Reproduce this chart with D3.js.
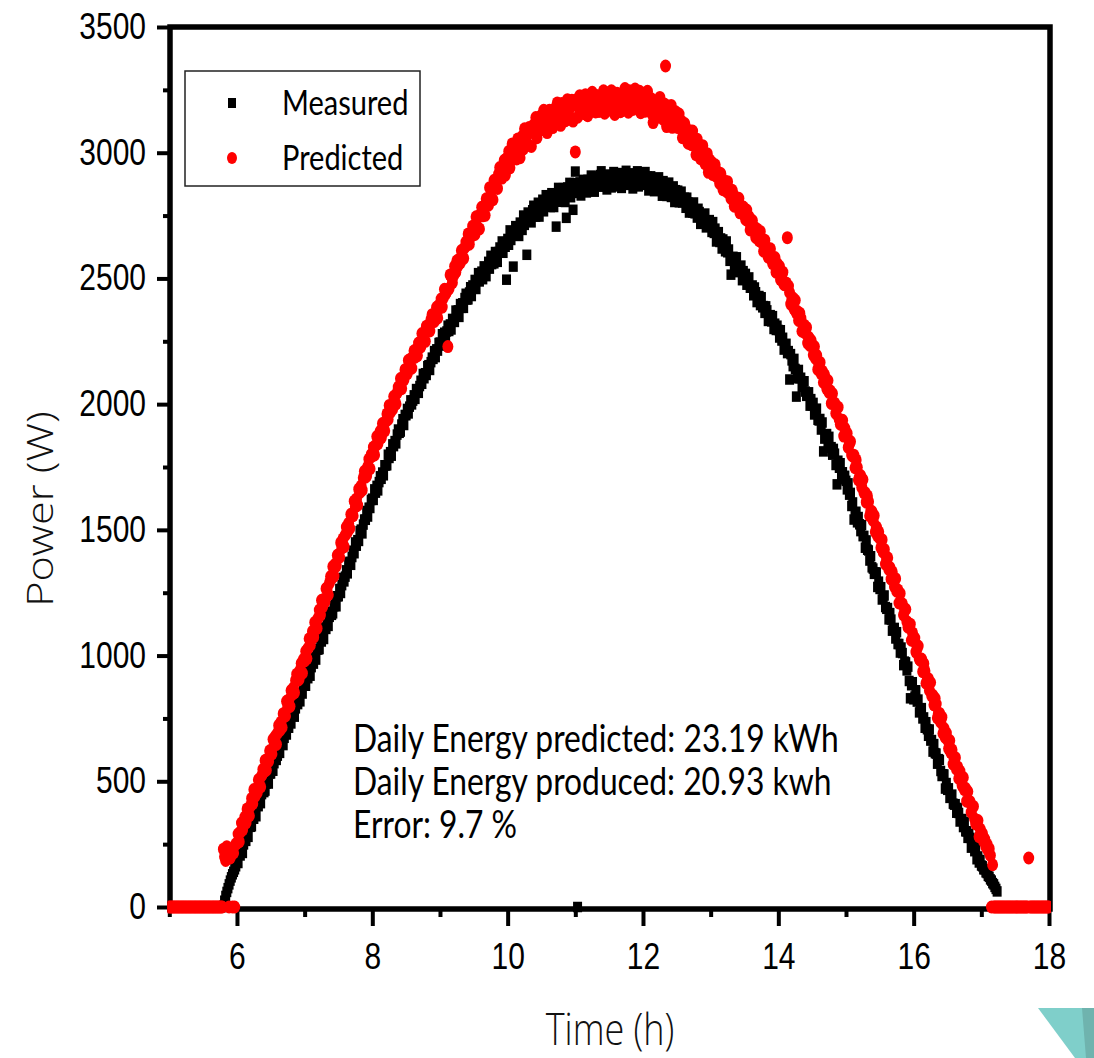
<!DOCTYPE html>
<meta charset="utf-8">
<script src="https://d3js.org/d3.v7.min.js"></script>
<style>
  body { margin: 0; background: #fff; }
</style>
<div id="chart"></div>
<script>
// one sample per minute, starting at 5:00 (one row = one hour)
var startHour = 5, stepHours = 1 / 60;

var measured = [
  0,0,0,0,0,0,0,0,0,0,0,0,0,0,0,0,0,0,0,0,0,0,0,0,0,0,0,0,0,0,0,0,0,0,0,0,0,0,0,0,0,0,0,0,0,0,0,0,5,25,44,60,75,90,105,118,130,140,150,162,
  179,175,217,205,233,215,249,273,263,289,279,319,319,321,363,351,375,361,407,401,421,413,449,469,457,463,491,513,491,531,531,559,542,572,599,585,602,626,613,655,656,644,673,697,686,728,713,735,730,768,773,757,790,810,807,841,818,852,849,881,
  884,880,922,910,938,920,954,978,968,994,984,1024,1024,1026,1068,1056,1080,1066,1112,1106,1126,1118,1154,1174,1162,1168,1196,1218,1196,1236,1236,1265,1249,1280,1309,1295,1314,1339,1327,1370,1373,1361,1392,1417,1407,1450,1437,1459,1456,1495,1501,1486,1521,1541,1540,1575,1553,1588,1587,1619,
  1624,1619,1661,1648,1675,1657,1690,1713,1703,1728,1717,1757,1756,1757,1799,1786,1809,1795,1840,1833,1853,1844,1879,1899,1886,1891,1919,1940,1917,1957,1956,1981,1963,1990,2015,1999,2014,2035,2021,2060,2059,2045,2072,2093,2081,2120,2103,2123,2116,2151,2155,2136,2167,2185,2180,2211,2187,2218,2213,2243,
  2245,2233,2278,2255,2284,2253,2289,2312,2291,2317,2297,2339,2332,2327,2372,2350,2373,2347,2398,2383,2401,2383,2422,2439,2416,2417,2444,2465,2430,2472,2464,2494,2458,2491,2521,2488,2503,2527,2497,2548,2539,2509,2542,2566,2539,2590,2557,2578,2560,2605,2602,2566,2605,2623,2608,2647,2602,2641,2626,2495,
  2657,2634,2691,2653,2687,2547,2682,2708,2673,2703,2669,2722,2706,2693,2750,2713,2739,2594,2762,2735,2754,2723,2771,2789,2751,2746,2778,2801,2746,2799,2783,2813,2767,2801,2831,2788,2800,2824,2784,2839,2824,2784,2818,2706,2805,2860,2816,2837,2811,2859,2851,2804,2741,2862,2839,2880,2823,2864,2773,2879,
  2925,2840,0,2852,2882,2830,2870,2892,2854,2880,2842,2892,2872,2855,2909,2868,2890,2845,2906,2875,2891,2867,2911,2926,2884,2865,2894,2913,2854,2903,2883,2911,2862,2894,2923,2877,2887,2909,2866,2919,2902,2860,2892,2914,2875,2928,2882,2900,2872,2918,2907,2858,2898,2912,2887,2926,2866,2906,2881,2916,
  2902,2872,2923,2878,2905,2850,2887,2906,2865,2888,2847,2894,2871,2851,2902,2858,2877,2829,2887,2853,2866,2828,2869,2881,2836,2824,2850,2866,2804,2851,2829,2849,2803,2825,2845,2802,2807,2821,2781,2821,2802,2762,2785,2799,2762,2802,2759,2770,2742,2777,2764,2717,2746,2754,2729,2758,2703,2731,2706,2732,
  2716,2685,2724,2681,2698,2647,2673,2684,2645,2659,2619,2655,2630,2608,2647,2604,2615,2570,2515,2580,2586,2549,2578,2584,2541,2525,2543,2551,2493,2529,2505,2518,2475,2491,2504,2463,2463,2472,2433,2464,2445,2406,2422,2430,2394,2425,2385,2390,2363,2389,2373,2331,2352,2354,2329,2350,2299,2320,2295,2312,
  2295,2265,2294,2253,2264,2217,2235,2240,2203,2211,2098,2199,2174,2151,2180,2140,2030,2103,2136,2103,2105,2069,2090,2091,2050,2033,2044,2047,1994,2020,1995,2005,1959,1972,1982,1938,1935,1941,1899,1927,1812,1863,1876,1881,1842,1870,1827,1829,1799,1822,1803,1758,1681,1775,1747,1765,1711,1729,1701,1715,
  1695,1661,1685,1640,1647,1595,1609,1541,1568,1572,1530,1551,1522,1495,1519,1475,1476,1429,1458,1421,1418,1378,1395,1351,1346,1325,1331,1330,1273,1294,1265,1272,1223,1233,1239,1193,1186,1189,1144,1169,1143,1099,1108,1110,1068,1093,1046,1046,1012,1032,1010,962,976,973,941,956,899,830,882,894,
  826,837,862,817,825,774,789,791,750,754,713,735,707,681,706,662,664,618,648,612,610,570,588,585,541,521,528,527,471,493,466,472,434,441,447,411,407,409,375,394,374,340,348,350,318,337,301,301,275,291,275,236,248,246,222,234,190,201,177,187,
  165,162,150,150,138,135,124,120,110,105,95,90,80,72,62,0,0,0,0,0,0,0,0,0,0,0,0,0,0,0,0,0,0,0,0,0,0,0,0,0,0,0,0,0,0,0,0,0,0,0,0,0,0,0,0,0,0,0,0,0,0
];

var predicted = [
  0,0,0,0,0,0,0,0,0,0,0,0,0,0,0,0,0,0,0,0,0,0,0,0,0,0,0,0,0,0,0,0,0,0,0,0,0,0,0,0,0,0,0,0,0,0,0,0,230,200,185,240,210,0,195,230,0,215,0,250,
  254,290,260,298,334,307,328,358,334,390,387,363,402,432,411,467,440,467,455,506,509,478,523,547,538,583,544,588,579,621,621,609,667,643,679,647,692,722,702,735,714,769,763,760,818,794,824,798,861,846,871,853,901,926,902,905,942,969,930,985,
  979,1017,988,1029,1067,1041,1064,1096,1073,1132,1131,1108,1149,1181,1161,1220,1195,1223,1213,1266,1270,1242,1289,1314,1307,1354,1316,1363,1356,1399,1401,1391,1449,1427,1464,1433,1479,1511,1491,1526,1506,1562,1557,1556,1614,1592,1623,1598,1662,1649,1674,1658,1707,1733,1710,1715,1752,1781,1743,1799,
  1794,1829,1798,1836,1871,1843,1863,1892,1867,1923,1919,1894,1932,1961,1939,1995,1967,1993,1980,2030,2032,2001,2045,2068,2058,2102,2062,2106,2096,2137,2136,2121,2174,2147,2180,2143,2185,2212,2187,2217,2193,2243,2234,2228,2281,2254,2281,2250,2310,2292,2312,2291,2336,2356,2329,2329,2361,2385,2343,2393,
  2384,2418,2386,2423,2457,2438,2447,2229,2459,2514,2509,2483,2510,2548,2525,2570,2551,2576,2562,2611,2612,2580,2623,2645,2634,2677,2636,2679,2668,2708,2698,2675,2745,2706,2747,2697,2750,2783,2749,2786,2751,2817,2802,2791,2861,2822,2855,2813,2890,2863,2889,2858,2915,2941,2902,2899,2941,2970,2911,2977,
  2960,3005,2940,2990,3035,2975,2995,3030,2975,3055,3035,2980,3030,3065,3015,3095,3035,3065,3030,3100,3090,3025,3085,3110,3080,3140,3060,3120,3090,3145,3130,3092,3169,3111,3153,3080,3137,3169,3116,3153,3100,3172,3144,3121,3198,3140,3172,3109,3196,3153,3175,3127,3189,3211,3153,3140,3182,3209,3126,3198,
  3003,3211,3141,3182,3227,3183,3184,3215,3155,3231,3207,3147,3188,3219,3169,3240,3175,3201,3162,3228,3213,3164,3195,3215,3180,3246,3157,3198,3179,3230,3210,3170,3246,3186,3226,3152,3207,3237,3183,3218,3163,3234,3204,3179,3255,3195,3225,3161,3246,3201,3222,3172,3232,3253,3193,3178,3219,3244,3159,3230,
  3200,3237,3165,3207,3244,3177,3189,3216,3154,3120,3198,3136,3178,3205,3148,3220,3152,3175,3132,3194,3345,3104,3156,3174,3136,3188,3101,3153,3115,3163,3138,3100,3154,3100,3126,3060,3098,3116,3066,3088,3038,3088,3058,3032,3086,3032,3050,2992,3054,3012,3022,2976,3018,3028,2974,2956,2982,2996,2922,2972,
  2944,2962,2913,2934,2952,2906,2909,2921,2878,2917,2896,2853,2874,2886,2846,2885,2840,2848,2818,2851,2835,2787,2814,2819,2792,2819,2761,2788,2761,2784,2766,2735,2772,2729,2746,2693,2719,2730,2689,2703,2663,2697,2672,2650,2687,2644,2655,2608,2652,2618,2622,2585,2614,2618,2575,2559,2575,2583,2525,2559,
  2534,2548,2495,2512,2525,2476,2474,2482,2662,2470,2444,2398,2414,2422,2378,2413,2363,2368,2333,2362,2342,2290,2312,2314,2282,2305,2243,2266,2234,2254,2231,2196,2229,2182,2194,2138,2159,2166,2121,2131,2086,2117,2087,2061,2094,2047,2053,2003,2042,2004,2004,1963,1987,1988,1940,1920,1932,1936,1873,1904,
  1874,1884,1828,1841,1851,1798,1793,1797,1747,1778,1749,1699,1712,1716,1669,1700,1647,1648,1610,1635,1612,1556,1575,1573,1538,1557,1492,1511,1476,1492,1466,1429,1461,1411,1422,1364,1384,1389,1343,1350,1304,1333,1302,1274,1306,1256,1261,1209,1247,1207,1206,1162,1185,1184,1135,1113,1124,1125,1061,1090,
  1059,1070,1014,1028,1038,986,981,986,936,968,939,890,903,908,861,893,840,842,804,830,807,752,771,770,735,755,690,710,675,692,666,630,662,614,625,568,588,594,548,557,511,541,510,483,515,467,472,421,459,420,419,377,400,400,351,330,341,344,280,310,
  285,292,262,270,240,250,225,232,205,0,168,0,0,0,0,0,0,0,0,0,0,0,0,0,0,0,0,0,0,0,0,0,0,0,0,0,0,0,0,0,0,0,195,0,0,0,0,0,0,0,0,0,0,0,0,0,0,0,0,0,0
];

var xTicks = [6, 8, 10, 12, 14, 16, 18];
var xMinor = [5, 7, 9, 11, 13, 15, 17];
var yTicks = [0, 500, 1000, 1500, 2000, 2500, 3000, 3500];
var yMinor = [250, 750, 1250, 1750, 2250, 2750, 3250];
var seriesNames = ["Measured", "Predicted"];
var notes = ["Daily Energy predicted: 23.19 kWh", "Daily Energy produced: 20.93 kwh", "Error: 9.7 %"];

var W = 1094, H = 1058;
var stretch = 1.2; // the original picture is a bit taller than wide

var svg = d3.select("#chart").append("svg")
    .attr("width", W)
    .attr("height", H);

var x = d3.scaleLinear().domain([5, 18]).range([169.3, 1049]);
var y = d3.scaleLinear().domain([0, 3500]).range([907, 27]);

var toPoints = function(vals) {
  return vals.map(function(v, i) { return {t: startHour + i * stepHours, p: v}; });
};

var tickFont = "'Liberation Sans', Arial, sans-serif";
var textFont = "Lato, 'Open Sans', sans-serif";

// bottom axis
var xAxisG = svg.append("g").attr("transform", "translate(0,909)");
xAxisG.call(d3.axisBottom(x).tickValues(xTicks).tickSize(17).tickPadding(17).tickFormat(d3.format("d")));
xAxisG.append("g").call(d3.axisBottom(x).tickValues(xMinor).tickSize(8).tickFormat(""));
xAxisG.selectAll(".domain").remove();
xAxisG.selectAll("line").attr("stroke", "#000").attr("stroke-width", 4);
xAxisG.selectAll("text")
    .attr("fill", "#000")
    .style("font-family", tickFont).style("font-size", "30px")
    .attr("transform", "translate(0,34) scale(1," + stretch + ") translate(0,-34)");

// left axis
var yAxisG = svg.append("g").attr("transform", "translate(170,0)");
yAxisG.call(d3.axisLeft(y).tickValues(yTicks).tickSize(13).tickPadding(11).tickFormat(d3.format("d")));
yAxisG.append("g").call(d3.axisLeft(y).tickValues(yMinor).tickSize(7).tickFormat(""));
yAxisG.selectAll(".domain").remove();
yAxisG.selectAll("line").attr("stroke", "#000").attr("stroke-width", 4);
yAxisG.selectAll("text")
    .attr("fill", "#000")
    .style("font-family", tickFont).style("font-size", "30px")
    .attr("transform", "scale(1," + stretch + ")");

// frame
svg.append("rect")
    .attr("x", 170).attr("y", 27)
    .attr("width", 1050 - 170).attr("height", 909 - 27)
    .attr("fill", "none").attr("stroke", "#000").attr("stroke-width", 5.5);

// data
svg.append("clipPath").attr("id", "clip")
  .append("rect").attr("x", 167.5).attr("y", 0).attr("width", 1051 - 167.5).attr("height", H);

var plot = svg.append("g").attr("clip-path", "url(#clip)");

plot.selectAll("rect.meas")
  .data(toPoints(measured))
  .enter()
  .append("rect")
    .attr("class", "meas")
    .attr("x", function(d) { return x(d.t) - 4.5; })
    .attr("y", function(d) { return y(d.p) - 5.25; })
    .attr("width", 9)
    .attr("height", 10.5)
    .attr("fill", "#000");

plot.selectAll("ellipse.pred")
  .data(toPoints(predicted))
  .enter()
  .append("ellipse")
    .attr("class", "pred")
    .attr("cx", function(d) { return x(d.t); })
    .attr("cy", function(d) { return y(d.p); })
    .attr("rx", 5.5)
    .attr("ry", 6.5)
    .attr("fill", "#ff0000");

// legend
var legend = svg.append("g");
legend.append("rect")
    .attr("x", 185).attr("y", 71).attr("width", 235).attr("height", 115)
    .attr("fill", "#fff").attr("stroke", "#222").attr("stroke-width", 1.5);
legend.append("rect")
    .attr("x", 228).attr("y", 98).attr("width", 8).attr("height", 10).attr("fill", "#000");
legend.append("ellipse")
    .attr("cx", 232).attr("cy", 158).attr("rx", 5).attr("ry", 6).attr("fill", "#ff0000");
legend.selectAll("text.leg")
  .data(seriesNames)
  .enter()
  .append("text")
    .attr("class", "leg")
    .attr("transform", function(d, i) { return "translate(282," + (115 + i * 55) + ") scale(1," + stretch + ")"; })
    .style("font-family", textFont).style("font-size", "29px")
    .attr("fill", "#000")
    .text(function(d) { return d; });

// annotation
svg.selectAll("text.note")
  .data(notes)
  .enter()
  .append("text")
    .attr("class", "note")
    .attr("transform", function(d, i) { return "translate(353," + (752 + i * 43) + ") scale(1," + stretch + ")"; })
    .style("font-family", textFont).style("font-size", "31.8px")
    .attr("fill", "#000")
    .text(function(d) { return d; });

// axis titles
svg.append("text")
    .attr("transform", "translate(610,1045) scale(1," + stretch + ")")
    .attr("text-anchor", "middle")
    .style("font-family", "'Open Sans', sans-serif").style("font-weight", 300).style("font-size", "36px")
    .attr("fill", "#111")
    .text("Time (h)");

svg.append("text")
    .attr("transform", "translate(53,509) scale(1," + stretch + ") rotate(-90)")
    .attr("text-anchor", "middle")
    .style("font-family", "'Open Sans', sans-serif").style("font-weight", 300).style("font-size", "36px")
    .attr("fill", "#111")
    .text("Power (W)");

// corner decoration from the original slide
svg.append("polygon")
    .attr("points", "1038,1008 1094,1008 1094,1058 1075,1058")
    .attr("fill", "#7fcfca");
svg.append("polygon")
    .attr("points", "1082,1008 1094,1008 1094,1058 1086,1058")
    .attr("fill", "#6fb3ae");
</script>
